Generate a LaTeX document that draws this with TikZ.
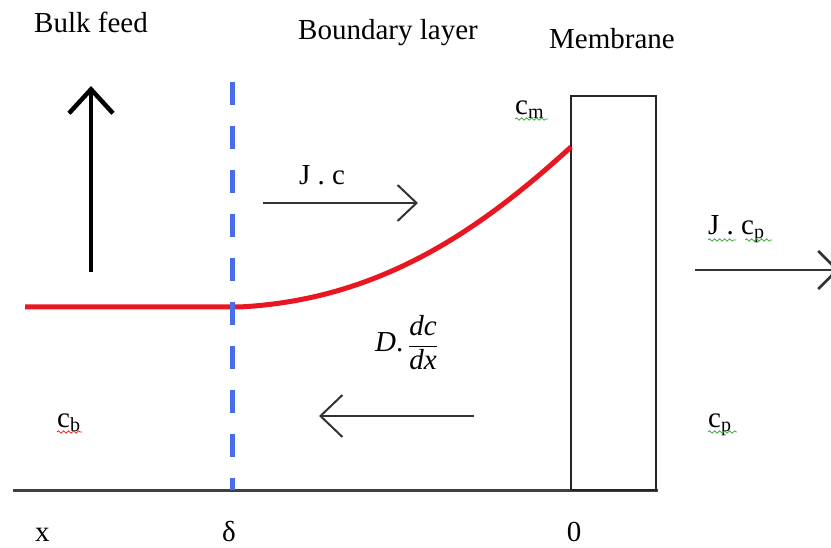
\documentclass[tikz,border=0pt]{standalone}
\usepackage{fontspec}
\setmainfont{Liberation Serif}
\usetikzlibrary{arrows.meta,decorations.pathmorphing}
\newcommand\sbs[1]{\raisebox{-4pt}{\fontsize{20}{20}\selectfont #1}}
\definecolor{redline}{RGB}{232,22,32}
\definecolor{blueline}{RGB}{70,110,235}
\definecolor{spgreen}{RGB}{60,170,60}
\definecolor{spred}{RGB}{230,40,40}
\begin{document}
\begin{tikzpicture}[x=1pt,y=-1pt,
  lbl/.style={anchor=base west, inner sep=0pt, font=\fontsize{29}{34}\selectfont},
  flux/.style={draw=black!80, line width=2pt},
  squig/.style={decorate, decoration={snake, amplitude=1.2pt, segment length=5pt}, line width=0.8pt}]
\clip (0,0) rectangle (831,548);
\fill[white] (0,0) rectangle (831,548);
% texts
\node[lbl] (bulk) at (34,33) {Bulk feed};
\node[lbl] (bl) at (298,40) {Boundary layer};
\node[lbl] (mem) at (549,49) {Membrane};
\node[lbl] (jc) at (299,185) {J . c};
\node[lbl] (cm) at (515,115) {c\sbs{m}};
\node[lbl] (jcp) at (708,235) {J . c\sbs{p}};
\node[lbl] (cb) at (57,428) {c\sbs{b}};
\node[lbl] (cp) at (708,428) {c\sbs{p}};
\node[lbl] (dd) at (375,352) {\textit{D}.\,$\displaystyle\frac{\mbox{\itshape dc}}{\mbox{\itshape dx}\rule[-4pt]{0pt}{4pt}}$};
\node[lbl] (xl) at (35,541) {x};
\node[lbl, anchor=base] (dl) at (229,541) {δ};
\node[lbl, anchor=base] (zl) at (574,541) {0};
% spell-check squiggles
\draw[squig, spgreen] (515,119) -- (548,119);
\draw[squig, spgreen] (708,240) -- (736,240);
\draw[squig, spgreen] (745,240) -- (772,240);
\draw[squig, spred] (57,432) -- (82,432);
\draw[squig, spgreen] (708,432) -- (737,432);
% base line and membrane
\coordinate (b0) at (13,490);
\coordinate (b1) at (658,490);
\draw[line width=3pt, black!75] (b0) -- (b1);
\coordinate (m0) at (571,96);
\coordinate (m1) at (656,490);
\draw[line width=2pt, black!85] (m0) rectangle (m1);
% bulk arrow
\coordinate (up0) at (91,272);
\coordinate (up1) at (91,86);
\draw[line width=4.5pt, -{Straight Barb[length=24pt,width=44pt]}] (up0) -- (up1);
% concentration profile
\coordinate (r0) at (25,307);
\coordinate (r1) at (239,307);
\coordinate (r2) at (571,147);
\draw[line width=5pt, redline] (r0) -- (r1) .. controls (380,300) and (480,230) .. (r2);
% boundary layer edge
\coordinate (d0) at (232,82);
\coordinate (d1) at (232,490);
\draw[line width=5pt, blueline, dash pattern=on 23pt off 21pt] (d0) -- (d1);
% flux arrows
\coordinate (a0) at (263,203);
\coordinate (a1) at (418,203);
\draw[flux, -{Straight Barb[length=19pt,width=36pt]}] (a0) -- (a1);
\coordinate (c0) at (474,416);
\coordinate (c1) at (319,416);
\draw[flux, -{Straight Barb[length=22pt,width=42pt]}] (c0) -- (c1);
\coordinate (e0) at (695,270);
\coordinate (e1) at (839,270);
\draw[flux, line width=2.5pt, -{Straight Barb[length=19pt,width=38pt]}] (e0) -- (e1);
\end{tikzpicture}
\end{document}
